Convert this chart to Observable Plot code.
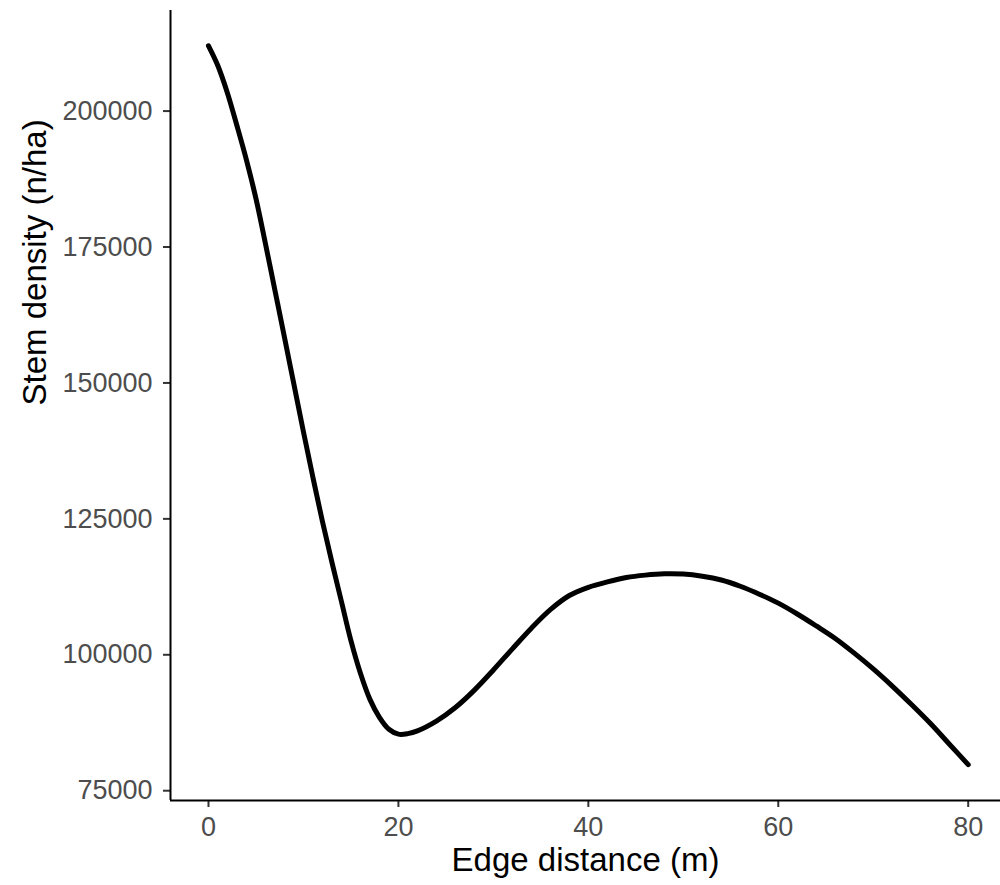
<!DOCTYPE html>
<html>
<head>
<meta charset="utf-8">
<script src="https://cdn.jsdelivr.net/npm/d3@7"></script>
<script src="https://cdn.jsdelivr.net/npm/@observablehq/plot@0.6"></script>
<style>
  html, body { margin: 0; padding: 0; background: #ffffff; }
  #chart svg { display: block; }
  #chart g[aria-label="x-axis tick label"] text,
  #chart g[aria-label="y-axis tick label"] text { fill: #4D4D4D; }
</style>
</head>
<body>
<div id="chart"></div>
<script>
// ---- data ----
const edgeDistance = [0, 1, 2, 3, 4, 5, 6, 7, 8, 9, 10, 11, 12, 13, 14, 15, 16, 17, 18, 19, 20, 21, 22, 24, 26, 28, 30, 32, 34, 36, 38, 40, 42, 44, 46, 48, 50, 52, 54, 56, 58, 60, 62, 64, 66, 68, 70, 72, 74, 76, 78, 80];
const stemDensity = [212000, 208300, 203300, 197300, 191000, 183900, 175600, 167000, 158400, 149700, 141000, 132600, 124500, 117000, 109800, 102600, 96600, 91800, 88500, 86300, 85400, 85500, 86000, 87800, 90300, 93500, 97200, 101100, 104900, 108300, 110900, 112400, 113400, 114200, 114650, 114900, 114850, 114450, 113750, 112600, 111150, 109500, 107500, 105300, 103000, 100300, 97400, 94250, 90900, 87400, 83600, 79800];
const xTicks = [0, 20, 40, 60, 80];
const yTicks = [75000, 100000, 125000, 150000, 175000, 200000];
const xDomain = [-4, 83.4];
const yDomain = [73200, 218500];
const xTitle = "Edge distance (m)";
const yTitle = "Stem density (n/ha)";

const data = edgeDistance.map((x, i) => ({x, y: stemDensity[i]}));

const chart = Plot.plot({
  width: 1000,
  height: 885,
  marginLeft: 170,
  marginRight: 0,
  marginTop: 10,
  marginBottom: 85,
  style: {fontFamily: "'Liberation Sans', Arial, sans-serif", background: "#ffffff", color: "#000000"},
  x: {domain: xDomain},
  y: {domain: yDomain},
  marks: [
    Plot.axisX({ticks: xTicks, tickSize: 7, tickPadding: 9, fontSize: 27, stroke: "#333333", strokeWidth: 2, fill: "#4D4D4D", tickFormat: d => String(d), label: null}),
    Plot.axisY({ticks: yTicks, tickSize: 7, tickPadding: 11, fontSize: 27, stroke: "#333333", strokeWidth: 2, fill: "#4D4D4D", tickFormat: d => String(d), label: null}),
    Plot.ruleX([xDomain[0]], {stroke: "#000000", strokeWidth: 2}),
    Plot.ruleY([yDomain[0]], {stroke: "#000000", strokeWidth: 2}),
    Plot.line(data, {x: "x", y: "y", stroke: "#000000", strokeWidth: 5, curve: "catmull-rom"}),
    Plot.text([xTitle], {frameAnchor: "bottom", dy: 60, text: d => d, fontSize: 33, fill: "#000000", lineAnchor: "middle"}),
    Plot.text([yTitle], {frameAnchor: "left", dx: -135, rotate: -90, text: d => d, fontSize: 33, fill: "#000000", lineAnchor: "middle"})
  ]
});
document.getElementById("chart").appendChild(chart);
</script>
</body>
</html>
